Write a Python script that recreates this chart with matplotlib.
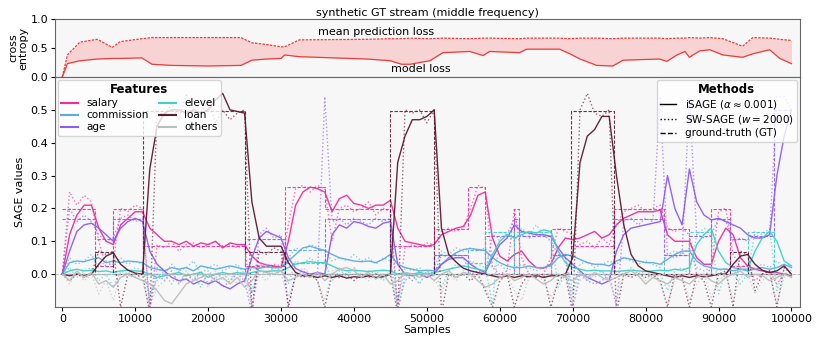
import matplotlib
matplotlib.use("Agg")
import matplotlib.pyplot as plt
from matplotlib.lines import Line2D

# ---- top panel: losses ----
loss_x = [0, 700, 2400, 4800, 6850, 7950, 10900, 12300, 15000, 20000, 24500, 26000, 28000,
          30000, 30500, 32500, 41800, 45000, 46500, 47700, 50400, 52200, 55900, 57700, 58600,
          62700, 63700, 68200, 69600, 71000, 73300, 75500, 76900, 81900, 82900, 84300, 85400,
          86000, 87400, 88800, 90600, 93300, 94700, 97000, 98400, 100000]
mean_pred_loss = [0.0, 0.38, 0.6, 0.65, 0.51, 0.61, 0.66, 0.68, 0.68, 0.68, 0.68, 0.59, 0.56,
                  0.52, 0.52, 0.64, 0.65, 0.66, 0.66, 0.67, 0.66, 0.67, 0.66, 0.67, 0.67,
                  0.66, 0.67, 0.67, 0.66, 0.67, 0.67, 0.66, 0.67, 0.67, 0.66, 0.67, 0.67,
                  0.68, 0.67, 0.68, 0.66, 0.53, 0.68, 0.67, 0.65, 0.63]
model_loss = [0.0, 0.23, 0.28, 0.31, 0.32, 0.32, 0.33, 0.22, 0.2, 0.19, 0.2, 0.29, 0.31,
              0.32, 0.38, 0.35, 0.31, 0.28, 0.22, 0.22, 0.28, 0.42, 0.44, 0.37, 0.44,
              0.42, 0.48, 0.48, 0.40, 0.31, 0.2, 0.19, 0.29, 0.31, 0.27, 0.38, 0.44,
              0.34, 0.45, 0.47, 0.38, 0.34, 0.40, 0.47, 0.32, 0.23]

# ---- ground truth: concept segments ----
gt_edges = [0, 4500, 7000, 11000, 25000, 30600, 36000, 45000, 51000, 55600, 58000, 61900,
            62700, 67000, 69700, 75600, 82500, 86000, 89000, 91600, 94000, 97600, 100000]
gt_salary = [.197, .025, .197, .086, .025, .264, .197, .086, .136, .264, 0, .197, 0, .136, .086,
             .197, .136, 0, .197, .025, 0, 0]
gt_commission = [0, 0, 0, 0, 0, .073, 0, 0, .057, .073, 0, 0, 0, .057, 0, 0, .057, 0, 0, 0, 0, 0]
gt_age = [.167, .107, .167, 0, .107, 0, .167, 0, .057, 0, .116, .167, .116, .057, 0, .167, .057,
          .116, .167, .107, .116, .5]
gt_elevel = [0, 0, 0, 0, 0, .035, 0, 0, 0, .035, .128, 0, .128, 0, 0, 0, 0, .128, 0, 0, .128, 0]
gt_loan = [0, .067, 0, .495, .067, 0, 0, .495, 0, 0, 0, 0, 0, 0, .495, 0, 0, 0, 0, .067, 0, 0]
gt_others = [0] * 22

# ---- estimates, read every 1000 samples ----
samples = list(range(0, 100001, 1000))

isage_salary = [0.0, 0.12, 0.18, 0.21, 0.21, 0.14, 0.10, 0.09, 0.15, 0.17,
                0.19, 0.19, 0.14, 0.12, 0.10, 0.10, 0.09, 0.10, 0.085, 0.095,
                0.09, 0.10, 0.08, 0.095, 0.09, 0.09, 0.055, 0.035, 0.028, 0.025,
                0.02, 0.10, 0.21, 0.25, 0.265, 0.26, 0.25, 0.19, 0.23, 0.24,
                0.215, 0.21, 0.20, 0.21, 0.21, 0.225, 0.14, 0.10, 0.095, 0.09,
                0.085, 0.09, 0.12, 0.13, 0.14, 0.145, 0.18, 0.24, 0.25, 0.11,
                0.055, 0.04, 0.06, 0.07, 0.04, 0.02, 0.018, 0.03, 0.08, 0.11,
                0.105, 0.11, 0.12, 0.13, 0.11, 0.12, 0.15, 0.17, 0.18, 0.19,
                0.19, 0.19, 0.195, 0.12, 0.10, 0.10, 0.10, 0.05, 0.03, 0.03,
                0.10, 0.14, 0.12, 0.05, 0.025, 0.015, 0.01, 0.005, 0.005, 0.0, -0.005]
isage_commission = [0.0, 0.035, 0.04, 0.038, 0.045, 0.05, 0.035, 0.04, 0.035, 0.04,
                    0.038, 0.035, 0.02, 0.015, 0.01, 0.02, 0.015, 0.02, 0.01, 0.025,
                    0.02, 0.015, 0.02, 0.025, 0.02, 0.015, 0.02, 0.018, 0.022, 0.02,
                    0.02, 0.04, 0.06, 0.08, 0.085, 0.078, 0.072, 0.06, 0.05, 0.045,
                    0.04, 0.038, 0.04, 0.035, 0.045, 0.06, 0.03, 0.02, 0.015, 0.01,
                    0.012, 0.01, 0.03, 0.05, 0.065, 0.075, 0.078, 0.075, 0.072, 0.05,
                    0.035, 0.025, 0.02, 0.02, 0.025, 0.02, 0.02, 0.025, 0.05, 0.06,
                    0.055, 0.045, 0.035, 0.03, 0.03, 0.025, 0.04, 0.05, 0.045, 0.04,
                    0.035, 0.035, 0.03, 0.045, 0.06, 0.07, 0.07, 0.04, 0.025, 0.02,
                    0.015, 0.015, 0.01, 0.015, 0.01, 0.015, 0.02, 0.015, 0.02, 0.03, 0.02]
isage_age = [0.0, 0.07, 0.13, 0.15, 0.155, 0.14, 0.12, 0.10, 0.14, 0.16,
             0.17, 0.16, 0.07, 0.03, 0.01, -0.01, -0.02, -0.015, -0.03, -0.02,
             -0.03, -0.02, -0.035, -0.045, -0.03, -0.02, 0.05, 0.11, 0.13, 0.12,
             0.11, 0.05, 0.017, 0.007, 0.0, 0.005, 0.0, 0.12, 0.15, 0.14,
             0.16, 0.155, 0.145, 0.14, 0.155, 0.16, 0.03, 0.0, -0.005, 0.0,
             -0.01, 0.0, 0.03, 0.045, 0.05, 0.05, 0.03, 0.015, 0.005, 0.05,
             0.09, 0.11, 0.15, 0.13, 0.125, 0.12, 0.12, 0.115, 0.08, 0.05,
             0.03, 0.01, -0.01, -0.02, -0.03, -0.02, 0.07, 0.12, 0.14, 0.145,
             0.15, 0.155, 0.16, 0.30, 0.20, 0.15, 0.32, 0.22, 0.18, 0.165,
             0.17, 0.16, 0.15, 0.14, 0.12, 0.11, 0.11, 0.12, 0.30, 0.42, 0.50]
isage_elevel = [0.0, 0.01, 0.015, 0.01, 0.012, 0.008, 0.01, 0.005, 0.01, 0.012,
                0.01, 0.008, 0.0, -0.01, -0.005, 0.0, 0.005, -0.005, 0.0, 0.005,
                -0.01, 0.0, 0.005, 0.0, 0.005, 0.0, 0.005, 0.01, 0.008, 0.01,
                0.01, 0.02, 0.03, 0.035, 0.038, 0.035, 0.035, 0.025, 0.015, 0.01,
                0.012, 0.01, 0.008, 0.01, 0.012, 0.01, 0.0, 0.005, 0.0, 0.005,
                0.0, 0.005, 0.01, 0.015, 0.02, 0.025, 0.02, 0.015, 0.01, 0.06,
                0.10, 0.12, 0.11, 0.12, 0.13, 0.125, 0.135, 0.13, 0.07, 0.035,
                0.02, 0.015, 0.01, 0.012, 0.01, 0.01, 0.008, 0.01, 0.012, 0.01,
                0.008, 0.01, 0.012, 0.01, 0.015, 0.012, 0.02, 0.09, 0.12, 0.14,
                0.07, 0.035, 0.02, 0.015, 0.015, 0.07, 0.11, 0.13, 0.10, 0.04, 0.025]
isage_loan = [0.0, -0.005, 0.0, -0.003, 0.0, 0.03, 0.055, 0.065, 0.03, 0.012,
              0.003, 0.0, 0.32, 0.45, 0.49, 0.50, 0.50, 0.49, 0.50, 0.49,
              0.50, 0.53, 0.55, 0.50, 0.495, 0.49, 0.22, 0.11, 0.085, 0.085,
              0.085, 0.035, 0.005, -0.005, -0.005, -0.01, -0.005, -0.01, -0.005, -0.012,
              -0.008, -0.01, -0.005, -0.01, -0.008, 0.0, 0.34, 0.42, 0.47, 0.47,
              0.48, 0.50, 0.14, 0.06, 0.037, 0.018, 0.01, 0.005, 0.0, -0.005,
              -0.01, -0.005, -0.01, -0.005, -0.008, -0.005, -0.01, -0.005, -0.005, 0.0,
              0.05, 0.34, 0.42, 0.44, 0.48, 0.48, 0.30, 0.15, 0.06, 0.025,
              0.01, 0.005, 0.0, -0.005, -0.01, -0.005, -0.01, -0.005, -0.008, -0.005,
              0.0, 0.0, 0.03, 0.055, 0.06, 0.03, 0.012, 0.005, 0.01, 0.025, 0.0]
isage_others = [0.0, -0.02, 0.01, -0.01, 0.005, -0.03, -0.02, -0.04, -0.01, 0.0,
                -0.01, -0.02, -0.03, -0.05, -0.08, -0.09, -0.06, -0.03, -0.02, -0.01,
                0.0, -0.02, -0.01, -0.03, -0.01, -0.04, -0.02, 0.01, 0.005, 0.0,
                0.01, -0.02, -0.01, 0.0, -0.01, 0.005, -0.02, 0.0, 0.015, 0.02,
                0.01, -0.01, 0.005, -0.015, 0.0, -0.03, -0.02, 0.005, 0.0, -0.01,
                0.0, -0.02, 0.0, 0.01, -0.01, 0.005, 0.0, -0.02, -0.04, -0.03,
                -0.01, 0.0, -0.02, -0.01, 0.0, -0.015, -0.03, -0.02, 0.0, -0.01,
                -0.02, 0.0, -0.01, 0.005, -0.01, -0.02, -0.01, 0.0, 0.01, -0.005,
                -0.03, -0.01, -0.02, -0.03, -0.01, -0.02, -0.03, -0.01, 0.0, -0.02,
                -0.03, -0.01, 0.0, 0.01, -0.01, 0.0, -0.005, -0.02, -0.01, 0.0, -0.01]

sw_salary = [0.0, 0.25, 0.21, 0.24, 0.22, 0.10, 0.02, 0.04, 0.20, 0.19,
             0.21, 0.20, -0.12, 0.09, 0.08, 0.10, 0.07, 0.09, 0.095, 0.08,
             0.09, 0.10, 0.085, 0.09, 0.08, 0.09, -0.10, 0.03, 0.02, 0.03,
             0.025, 0.15, 0.26, 0.27, 0.25, 0.27, 0.26, 0.10, 0.20, 0.21,
             0.19, 0.20, 0.22, 0.18, 0.20, 0.19, -0.10, 0.08, 0.09, 0.08,
             0.095, 0.09, 0.13, 0.14, 0.13, 0.14, 0.20, 0.27, 0.26, 0.02,
             0.0, 0.01, 0.20, 0.05, 0.0, -0.01, 0.0, 0.05, 0.14, 0.13,
             0.12, 0.09, 0.10, 0.08, 0.11, 0.09, 0.15, 0.19, 0.20, 0.21,
             0.19, 0.20, 0.21, 0.14, 0.13, 0.14, 0.12, 0.0, -0.01, 0.02,
             0.19, 0.20, 0.06, 0.02, 0.03, -0.02, 0.0, 0.01, -0.03, 0.0, 0.01]
sw_commission = [0.0, 0.05, 0.03, 0.04, 0.06, 0.02, 0.04, 0.03, 0.05, 0.03,
                 0.04, 0.03, -0.08, 0.02, 0.0, 0.03, 0.01, 0.02, 0.04, 0.0,
                 0.02, 0.03, 0.01, 0.02, 0.03, 0.0, -0.06, 0.02, 0.03, 0.01,
                 0.02, 0.05, 0.08, 0.07, 0.09, 0.08, 0.07, 0.04, 0.05, 0.04,
                 0.06, 0.04, 0.05, 0.03, 0.05, 0.04, -0.08, 0.02, 0.01, 0.02,
                 0.0, 0.02, 0.07, 0.06, 0.08, 0.07, 0.08, 0.07, 0.08, 0.02,
                 0.03, 0.01, 0.02, 0.03, 0.02, 0.01, 0.02, 0.03, 0.06, 0.05,
                 -0.05, 0.03, 0.04, 0.02, 0.03, 0.04, 0.03, 0.05, 0.04, 0.03,
                 0.04, 0.03, 0.02, 0.06, 0.07, 0.06, 0.08, 0.02, 0.01, 0.02,
                 0.01, 0.02, 0.0, 0.02, 0.01, 0.02, 0.03, 0.02, 0.04, 0.02, 0.01]
sw_age = [0.0, 0.20, 0.16, 0.18, 0.16, 0.12, 0.10, 0.11, 0.17, 0.18,
          0.16, 0.17, -0.10, 0.0, -0.02, 0.01, -0.03, 0.0, -0.02, 0.01,
          -0.03, -0.01, -0.04, -0.02, 0.0, -0.02, -0.12, 0.12, 0.14, 0.11,
          0.12, -0.10, 0.0, 0.01, -0.01, 0.0, 0.54, 0.16, 0.17, 0.15,
          0.17, 0.16, 0.15, 0.17, 0.16, 0.17, -0.12, 0.0, -0.02, 0.01,
          -0.01, 0.0, 0.06, 0.05, 0.06, 0.05, 0.0, 0.01, 0.0, 0.12,
          0.11, 0.12, 0.17, 0.12, 0.11, 0.12, 0.12, 0.10, 0.06, 0.05,
          -0.10, 0.0, -0.02, -0.03, -0.02, 0.0, -0.10, 0.16, 0.17, 0.15,
          0.17, 0.16, 0.54, 0.06, 0.05, 0.06, 0.54, 0.12, 0.11, 0.12,
          0.17, 0.16, 0.10, 0.11, 0.10, 0.12, 0.11, 0.12, 0.54, 0.54, 0.50]
sw_elevel = [0.0, 0.02, -0.01, 0.01, 0.02, -0.02, 0.0, -0.04, 0.01, 0.0,
             0.02, 0.01, -0.06, -0.02, 0.0, -0.03, 0.01, -0.02, 0.0, -0.04,
             0.01, -0.01, 0.0, -0.02, 0.01, 0.0, -0.05, 0.01, 0.0, 0.02,
             0.01, -0.03, 0.04, 0.03, 0.05, 0.03, 0.04, -0.02, 0.01, 0.0,
             0.02, -0.01, 0.01, 0.0, -0.02, 0.01, -0.10, -0.02, 0.0, -0.03,
             0.01, 0.0, -0.04, 0.01, 0.03, 0.02, 0.04, 0.03, 0.02, -0.09,
             0.13, 0.12, 0.10, 0.14, 0.12, 0.15, 0.12, 0.13, -0.04, 0.0,
             -0.06, 0.01, -0.02, 0.0, 0.01, -0.02, 0.01, 0.0, 0.02, 0.0,
             0.01, -0.01, 0.0, -0.05, 0.01, 0.02, 0.0, 0.12, 0.14, 0.13,
             -0.06, 0.01, 0.0, -0.03, 0.0, 0.13, 0.12, 0.14, -0.05, 0.02, 0.03]
sw_loan = [0.0, -0.02, 0.0, -0.01, 0.0, 0.07, 0.06, 0.07, -0.10, 0.0,
           -0.01, 0.0, -0.12, 0.50, 0.48, 0.52, 0.47, 0.55, 0.50, 0.49,
           0.53, 0.46, 0.50, 0.47, 0.49, 0.50, -0.12, 0.07, 0.06, 0.08,
           0.07, -0.10, 0.0, -0.01, 0.0, -0.02, -0.10, 0.0, -0.01, 0.0,
           -0.02, 0.0, -0.01, 0.0, -0.01, 0.0, -0.12, 0.50, 0.49, 0.50,
           0.46, 0.50, -0.12, 0.0, -0.01, 0.0, -0.02, 0.0, -0.05, -0.10,
           -0.02, 0.0, -0.10, -0.03, 0.0, -0.01, 0.0, -0.10, -0.02, 0.0,
           -0.12, 0.50, 0.55, 0.49, 0.48, 0.50, -0.12, 0.0, -0.01, 0.0,
           -0.01, 0.0, -0.02, -0.10, 0.0, -0.01, -0.10, 0.0, -0.02, -0.10,
           0.0, 0.01, -0.10, 0.07, 0.06, -0.05, 0.0, 0.01, -0.10, 0.02, 0.0]
sw_others = [0.0, -0.03, 0.01, -0.02, 0.0, -0.06, -0.02, -0.08, 0.0, -0.01,
             0.01, -0.02, -0.10, -0.04, -0.02, 0.0, -0.03, 0.01, -0.02, 0.0,
             -0.04, 0.01, -0.02, 0.0, -0.03, 0.01, -0.10, 0.0, -0.02, 0.01,
             0.0, -0.07, -0.01, 0.02, 0.0, -0.02, -0.08, 0.01, 0.02, -0.01,
             0.02, 0.0, -0.02, 0.01, -0.01, 0.0, -0.10, -0.02, 0.0, -0.03,
             0.01, -0.01, -0.06, 0.0, -0.02, 0.01, -0.01, 0.0, -0.04, -0.09,
             -0.02, 0.0, -0.05, -0.08, -0.01, 0.0, -0.02, -0.07, -0.03, 0.0,
             -0.09, -0.02, 0.0, -0.01, 0.01, -0.02, -0.08, 0.0, -0.01, 0.01,
             -0.02, 0.0, -0.03, -0.09, -0.02, 0.0, -0.08, -0.03, 0.0, -0.07,
             -0.02, 0.0, -0.08, -0.01, 0.0, -0.06, -0.02, 0.0, -0.09, -0.01, 0.0]

features = ["salary", "commission", "age", "elevel", "loan", "others"]
colors = ["#f22c9a", "#5dade2", "#8b5cf6", "#3fd0c9", "#5c1a33", "#bdbdbd"]
gt_all = [gt_salary, gt_commission, gt_age, gt_elevel, gt_loan, gt_others]
sw_all = [sw_salary, sw_commission, sw_age, sw_elevel, sw_loan, sw_others]
isage_all = [isage_salary, isage_commission, isage_age, isage_elevel, isage_loan, isage_others]

fig = plt.figure(figsize=(8.22, 3.43), dpi=100)
ax_top = fig.add_axes([55 / 822, 1 - 77 / 343, 745 / 822, 58 / 343])
ax = fig.add_axes([55 / 822, 1 - 307 / 343, 745 / 822, 230 / 343])
bg = "#f7f7f7"
xlim = (-1000, 101170)
fs = 8

# top panel
ax_top.set_facecolor(bg)
ax_top.fill_between(loss_x, model_loss, mean_pred_loss, color="#f7a8a8", alpha=0.45, lw=0)
ax_top.plot(loss_x, mean_pred_loss, color="#f03a3a", lw=0.9, ls=(0, (2, 1)))
ax_top.plot(loss_x, model_loss, color="#f03a3a", lw=0.9)
ax_top.text(43000, 0.78, "mean prediction loss", fontsize=fs, ha="center", va="center")
ax_top.text(49200, 0.14, "model loss", fontsize=fs, ha="center", va="center")
ax_top.set_xlim(*xlim)
ax_top.set_ylim(0, 1)
ax_top.set_yticks([0, 0.5, 1.0])
ax_top.set_xticks([])
ax_top.set_ylabel("cross\nentropy", fontsize=fs, linespacing=0.95)
ax_top.yaxis.set_label_coords(-0.036, 0.5)
ax_top.set_title("synthetic GT stream (middle frequency)", fontsize=fs, pad=2)
ax_top.tick_params(labelsize=fs, length=3, pad=2)

# bottom panel
ax.set_facecolor(bg)
ax.axhline(0, color="gray", ls="--", lw=0.6, alpha=0.6, zorder=0)
for name, c, gt, sw, isg in zip(features, colors, gt_all, sw_all, isage_all):
    ax.step(gt_edges, gt + [gt[-1]], where="post", color=c, ls=(0, (3, 1.5)), lw=0.8, alpha=0.9)
    ax.plot(samples, sw, color=c, ls=":", lw=1.0, alpha=0.65)
    ax.plot(samples, isg, color=c, lw=1.0, alpha=0.95)

ax.set_xlim(*xlim)
ax.set_ylim(-0.1, 0.6)
ax.set_yticks([0.0, 0.1, 0.2, 0.3, 0.4, 0.5])
ax.set_xticks(range(0, 100001, 10000))
ax.tick_params(labelsize=fs, length=3, pad=2)
ax.set_xlabel("Samples", fontsize=fs, labelpad=1)
ax.set_ylabel("SAGE values", fontsize=fs)
ax.yaxis.set_label_coords(-0.04, 0.5)

for a in (ax_top, ax):
    for s in a.spines.values():
        s.set_color("#666666")

feat_handles = [Line2D([], [], color=c, lw=1.5) for c in colors]
leg1 = ax.legend(feat_handles, features, loc="upper left", ncol=2, fontsize=7.5,
                 title="Features", title_fontproperties={"weight": "bold", "size": 8.5},
                 borderaxespad=0.3, handlelength=1.6, columnspacing=1.0,
                 labelspacing=0.2, borderpad=0.3, handletextpad=0.8)
ax.add_artist(leg1)
meth_handles = [Line2D([], [], color="black", lw=1.0),
                Line2D([], [], color="black", lw=1.0, ls=":"),
                Line2D([], [], color="black", lw=1.0, ls="--")]
meth_labels = [r"iSAGE ($\alpha \approx 0.001$)", r"SW-SAGE ($w = 2000$)", "ground-truth (GT)"]
ax.legend(meth_handles, meth_labels, loc="upper right", fontsize=7.5,
          title="Methods", title_fontproperties={"weight": "bold", "size": 8.5},
          borderaxespad=0.3, handlelength=1.6, labelspacing=0.2, borderpad=0.3)

fig.savefig("out.png", dpi=100)
